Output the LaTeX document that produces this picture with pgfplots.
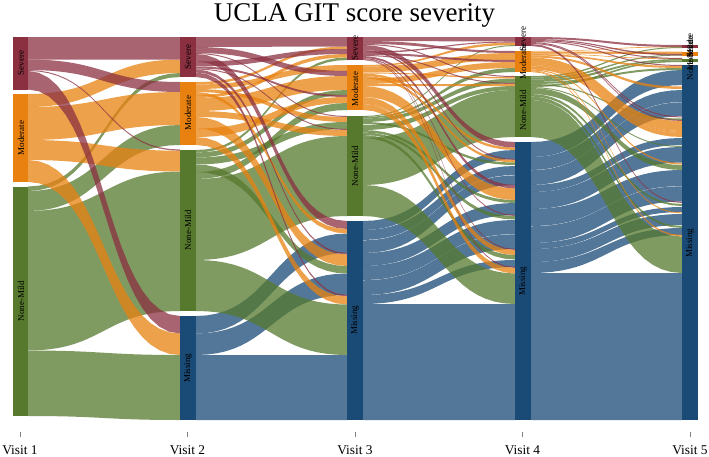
\documentclass[border=0pt]{standalone}
\usepackage{fontspec}
\setmainfont{Liberation Serif}
\usepackage{pgfplots}
\pgfplotsset{compat=1.18}

\definecolor{sev}{HTML}{8B3041}
\definecolor{mod}{HTML}{E8810F}
\definecolor{non}{HTML}{56792E}
\definecolor{mis}{HTML}{1A4A76}

% curve parameter along one band edge
\def\tup{0,.05,.1,.15,.2,.25,.3,.35,.4,.45,.5,.55,.6,.65,.7,.75,.8,.85,.9,.95,1}
\def\tdown{1,.95,.9,.85,.8,.75,.7,.65,.6,.55,.5,.45,.4,.35,.3,.25,.2,.15,.1,.05,0}

% \gap{x left}{x right}
\newcommand{\gap}[2]{\gdef\xa{#1}\gdef\xb{#2}}
% \flow{colour}{left top}{left bottom}{right top}{right bottom}, all in pixels
\newcommand{\flow}[5]{%
  \gdef\fc{}%
  \foreach \t in \tup {%
    \pgfmathsetmacro\xx{\xa+(\xb-\xa)*(1.5*\t*(1-\t)+\t*\t*\t)}%
    \pgfmathsetmacro\yy{#2+(#4-#2)*(3*\t*\t-2*\t*\t*\t)}%
    \xdef\fc{\fc (\xx,\yy)}}%
  \foreach \t in \tdown {%
    \pgfmathsetmacro\xx{\xa+(\xb-\xa)*(1.5*\t*(1-\t)+\t*\t*\t)}%
    \pgfmathsetmacro\yy{#3+(#5-#3)*(3*\t*\t-2*\t*\t*\t)}%
    \xdef\fc{\fc (\xx,\yy)}}%
  \edef\tmp{\noexpand\addplot[draw=none,fill=#1,fill opacity=0.75,forget plot] coordinates {\fc};}%
  \tmp}
% \stratum{colour}{x left}{x right}{top}{bottom}
\newcommand{\stratum}[5]{%
  \addplot[draw=none,fill=#1,forget plot] coordinates {(#2,#4) (#3,#4) (#3,#5) (#2,#5)};}
\newcommand{\lab}[3]{\node[rotate=90,inner sep=0pt,font=\fontsize{9}{9}\selectfont] at (axis cs:#1,#2) {#3};}

\begin{document}
\begin{tikzpicture}[x=1pt,y=1pt]
\path[use as bounding box] (0,-457) rectangle (709,0);
\begin{axis}[
  at={(0,0)}, anchor=north west,
  scale only axis, width=709pt, height=432pt,
  xmin=0, xmax=709, ymin=0, ymax=432,
  y dir=reverse,
  axis x line=bottom, axis y line=none,
  x axis line style={opacity=0,-},
  xtick={20,187.5,355,522.5,690},
  xticklabels={Visit 1,Visit 2,Visit 3,Visit 4,Visit 5},
  tick align=outside, major tick length=5pt,
  xtick style={draw=gray,line width=0.6pt},
  xticklabel style={font=\fontsize{13.4}{14}\selectfont,yshift=-5pt},
  title={UCLA GIT score severity},
  title style={at={(0.5,0.95)},anchor=center,font=\fontsize{27}{27}\selectfont},
  clip=false,
]
% Visit 1 to Visit 2
\gap{28}{180}
\flow{non}{186.5}{191}{73}{77}
\flow{non}{191}{211}{125}{145}
\flow{non}{211}{350.5}{171.5}{311}
\flow{non}{350.5}{416}{355}{420}
\flow{mod}{94}{107}{59.5}{73}
\flow{mod}{107}{140}{92}{125}
\flow{mod}{140}{160}{150.7}{171.5}
\flow{mod}{160}{182}{333.5}{355}
\flow{sev}{37}{59.5}{37}{59.5}
\flow{sev}{59.5}{70}{82}{92}
\flow{sev}{70}{71}{149.5}{150.7}
\flow{sev}{71}{89.5}{316}{333.5}
% Visit 2 to Visit 3
\gap{196}{347}
\flow{mis}{316}{333.5}{233.5}{253}
\flow{mis}{333.5}{355}{273.5}{295}
\flow{mis}{355}{420}{355}{420}
\flow{non}{150}{152.5}{57.5}{60}
\flow{non}{152.5}{157.5}{90}{95}
\flow{non}{157.5}{164.5}{122}{129}
\flow{non}{164.5}{172}{266}{273.5}
\flow{non}{172}{179}{103}{110}
\flow{non}{179}{260}{136}{216}
\flow{non}{260}{311}{304.5}{355}
\flow{mod}{82}{84.5}{46.5}{49}
\flow{mod}{84.5}{89}{65}{71}
\flow{mod}{89}{92}{117}{122}
\flow{mod}{92}{95}{229}{233.5}
\flow{mod}{95}{98}{54}{57.5}
\flow{mod}{98}{111}{76}{90}
\flow{mod}{111}{117}{130}{136}
\flow{mod}{117}{128.5}{254.5}{266}
\flow{mod}{128.5}{137}{97}{103}
\flow{mod}{137}{145}{296.5}{304.5}
\flow{sev}{37}{47}{37}{46.5}
\flow{sev}{47}{53}{71}{76}
\flow{sev}{53}{54}{116}{117}
\flow{sev}{54}{61.5}{221}{229}
\flow{sev}{61.5}{66.5}{49}{54}
\flow{sev}{66.5}{68.5}{95}{97}
\flow{sev}{68.5}{69.5}{129}{130}
\flow{sev}{69.5}{72.5}{253}{254.5}
\flow{sev}{72.5}{77}{295}{296.5}
% Visit 3 to Visit 4
\gap{363}{515}
\flow{mis}{221}{230}{150}{159}
\flow{mis}{230}{240}{166}{175}
\flow{mis}{240.4}{253}{175.4}{185}
\flow{mis}{253}{266}{203}{215}
\flow{mis}{266}{280}{220}{234}
\flow{mis}{280.3}{295}{234.3}{249}
\flow{mis}{295}{304}{260}{267}
\flow{mis}{304}{420}{304}{420}
\flow{non}{116}{117}{45}{46}
\flow{non}{117}{118.5}{68}{72}
\flow{non}{118.5}{122}{78.5}{83}
\flow{non}{122}{124}{162.5}{165}
\flow{non}{125}{130}{86}{90}
\flow{non}{130}{132.5}{200}{203}
\flow{non}{132.5}{135}{216}{219.5}
\flow{non}{135}{138}{255}{259.5}
\flow{non}{138}{185}{90}{137}
\flow{non}{185}{216}{273.5}{304}
\flow{mod}{65}{66.5}{42.5}{45}
\flow{mod}{66.5}{72.5}{53}{60}
\flow{mod}{72.5}{73.5}{77}{78.5}
\flow{mod}{73.5}{76}{147.5}{150}
\flow{mod}{76}{78.5}{160}{162.5}
\flow{mod}{78.5}{84}{62}{68}
\flow{mod}{84}{86}{84}{86}
\flow{mod}{86}{97}{188.5}{200}
\flow{mod}{97}{104}{250}{255}
\flow{mod}{104}{110}{268}{273.5}
\flow{sev}{37}{41}{37}{41.5}
\flow{sev}{41}{44}{51}{53}
\flow{sev}{44}{45}{76}{77}
\flow{sev}{45}{50}{142}{147.5}
\flow{sev}{50}{51.5}{159}{160}
\flow{sev}{51.5}{53}{41.5}{42.5}
\flow{sev}{53}{55}{60}{62}
\flow{sev}{55}{56}{83}{84}
\flow{sev}{56}{58}{185}{188.5}
\flow{sev}{58}{59}{215}{216}
\flow{sev}{59}{59.5}{249}{250}
\flow{sev}{59.5}{60}{267}{268}
% Visit 4 to Visit 5
\gap{531}{682}
\flow{mis}{142}{157}{70}{85}
\flow{mis}{157}{170}{90}{102}
\flow{mis}{170.3}{185}{102.3}{116}
\flow{mis}{185}{192}{138}{145}
\flow{mis}{192}{209}{147}{162.5}
\flow{mis}{209}{226}{170}{186}
\flow{mis}{226.3}{243}{186.3}{201.5}
\flow{mis}{243}{249}{207}{212}
\flow{mis}{249}{262}{214}{225}
\flow{mis}{262}{273}{228}{235}
\flow{mis}{273}{420}{273}{420}
\flow{non}{76}{77.5}{47}{48}
\flow{non}{77.5}{79.5}{54.5}{55.5}
\flow{non}{79.5}{82}{59}{60.5}
\flow{non}{82}{84}{68}{70}
\flow{non}{84}{85}{118.5}{120}
\flow{non}{85}{87}{60.5}{62}
\flow{non}{87}{88}{146}{147}
\flow{non}{88}{94}{165}{170}
\flow{non}{94}{96.5}{204}{206}
\flow{non}{96.5}{100}{226}{228}
\flow{non}{100}{137}{236.5}{273}
\flow{mod}{51}{51.5}{46.5}{47.2}
\flow{mod}{51.5}{53.5}{51.5}{54}
\flow{mod}{53.5}{54}{58.5}{59.2}
\flow{mod}{54}{55.5}{66}{68}
\flow{mod}{55.5}{57.5}{86.5}{89}
\flow{mod}{57.5}{65}{121}{131}
\flow{mod}{65}{66.5}{131}{133}
\flow{mod}{66.5}{69.5}{133}{137}
\flow{mod}{69.5}{70.5}{163}{164.5}
\flow{mod}{70.5}{71.2}{212.5}{213.5}
\flow{mod}{71.2}{72}{235}{236.5}
\flow{sev}{37}{39}{45}{47}
\flow{sev}{39}{40}{54}{55.5}
\flow{sev}{40}{41}{58}{59}
\flow{sev}{41}{42}{65}{66}
\flow{sev}{42}{43}{116.5}{117.5}
\flow{sev}{43}{44}{120}{121}
\flow{sev}{44}{46}{202}{203}
% strata
\stratum{sev}{12.5}{28}{37}{89.5}
\stratum{mod}{12.5}{28}{94}{182}
\stratum{non}{12.5}{28}{186.5}{416}
\stratum{sev}{180}{196}{37}{77}
\stratum{mod}{180}{196}{82}{145}
\stratum{non}{180}{196}{150}{311}
\stratum{mis}{180}{196}{316}{420}
\stratum{sev}{347}{363}{37}{60}
\stratum{mod}{347}{363}{65}{110}
\stratum{non}{347}{363}{116}{216}
\stratum{mis}{347}{363}{221}{420}
\stratum{sev}{515}{531}{37}{46}
\stratum{mod}{515}{531}{51}{72}
\stratum{non}{515}{531}{76}{137}
\stratum{mis}{515}{531}{142}{420}
\stratum{sev}{682}{698}{45}{48}
\stratum{mod}{682}{698}{51.5}{55.5}
\stratum{non}{682}{698}{59}{62}
\stratum{mis}{682}{698}{65}{420}
% labels
\lab{21}{63}{Severe}
\lab{21}{138}{Moderate}
\lab{21}{301}{None-Mild}
\lab{188}{57}{Severe}
\lab{188}{113}{Moderate}
\lab{188}{230}{None-Mild}
\lab{188}{368}{Missing}
\lab{355}{48}{Severe}
\lab{355}{89}{Moderate}
\lab{355}{166}{None-Mild}
\lab{355}{320}{Missing}
\lab{523}{39}{Severe}
\lab{523}{62}{Moderate}
\lab{523}{110}{None-Mild}
\lab{523}{281}{Missing}
\lab{690}{46}{Severe}
\lab{690}{53}{Moderate}
\lab{690}{60}{None-Mild}
\lab{690}{243}{Missing}
\end{axis}
\end{tikzpicture}
\end{document}
